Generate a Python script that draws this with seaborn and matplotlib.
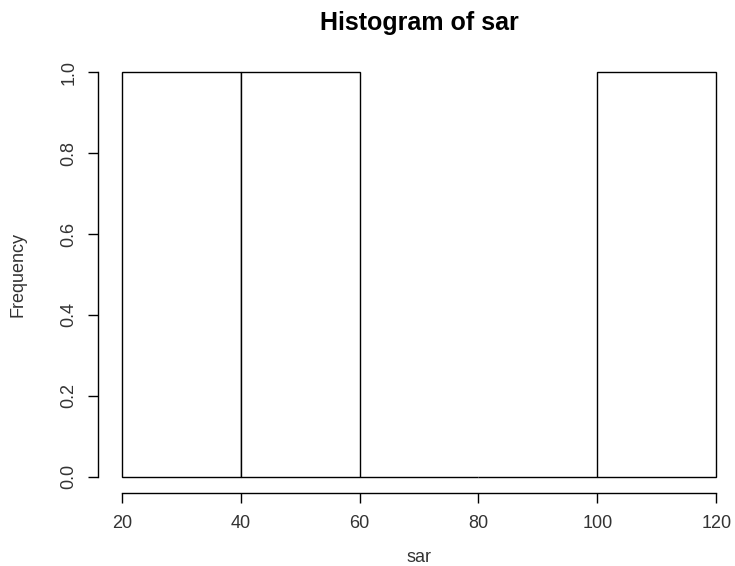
import matplotlib
matplotlib.use("Agg")
import matplotlib.pyplot as plt
import seaborn as sns
import numpy as np

# Data
bin_edges = [20, 40, 60, 80, 100, 120]
bin_counts = [1, 1, 0, 0, 1]
x_ticks = [20, 40, 60, 80, 100, 120]
y_ticks = [0.0, 0.2, 0.4, 0.6, 0.8, 1.0]
y_tick_labels = ["0.0", "0.2", "0.4", "0.6", "0.8", "1.0"]

sns.set_style("white")
plt.rcParams['font.family'] = ['Liberation Sans', 'DejaVu Sans']

W, H = 735, 566
fig = plt.figure(figsize=(W / 100, H / 100), dpi=100)
left, right, bottom, top = 98, 740, 493, 56
ax = fig.add_axes([left / W, (H - bottom) / H, (right - left) / W, (bottom - top) / H])

centers = [(bin_edges[i] + bin_edges[i + 1]) / 2 for i in range(len(bin_counts))]
sns.histplot(x=centers, weights=bin_counts, bins=bin_edges, ax=ax,
             color="white", edgecolor="black", linewidth=1.0, alpha=1.0)

ax.set_xlim(16, 124)
ax.set_ylim(-0.04, 1.04)
ax.set_xticks(x_ticks)
ax.set_xticklabels([str(t) for t in x_ticks])
ax.set_yticks(y_ticks)
ax.set_yticklabels(y_tick_labels, rotation=90, va="center")

for s in ["top", "right"]:
    ax.spines[s].set_visible(False)
ax.spines["bottom"].set_bounds(20, 120)
ax.spines["left"].set_bounds(0, 1)
for s in ["bottom", "left"]:
    ax.spines[s].set_color("black")
    ax.spines[s].set_linewidth(1.0)

txt = "#333333"
ax.tick_params(axis="both", direction="out", length=7, width=1.0, color="black",
               labelsize=13, labelcolor=txt, bottom=True, left=True)
ax.tick_params(axis="x", pad=9)
ax.tick_params(axis="y", pad=8)

ax.set_xlabel("sar", fontsize=13, color=txt, labelpad=12)
ax.set_ylabel("Frequency", fontsize=13, color=txt, labelpad=24)
fig.text((122 + 716) / 2 / W, 1 - 23 / H, "Histogram of sar", ha="center", va="center",
         fontsize=18, fontweight="bold", color="black")

fig.savefig("out.png", dpi=100)
